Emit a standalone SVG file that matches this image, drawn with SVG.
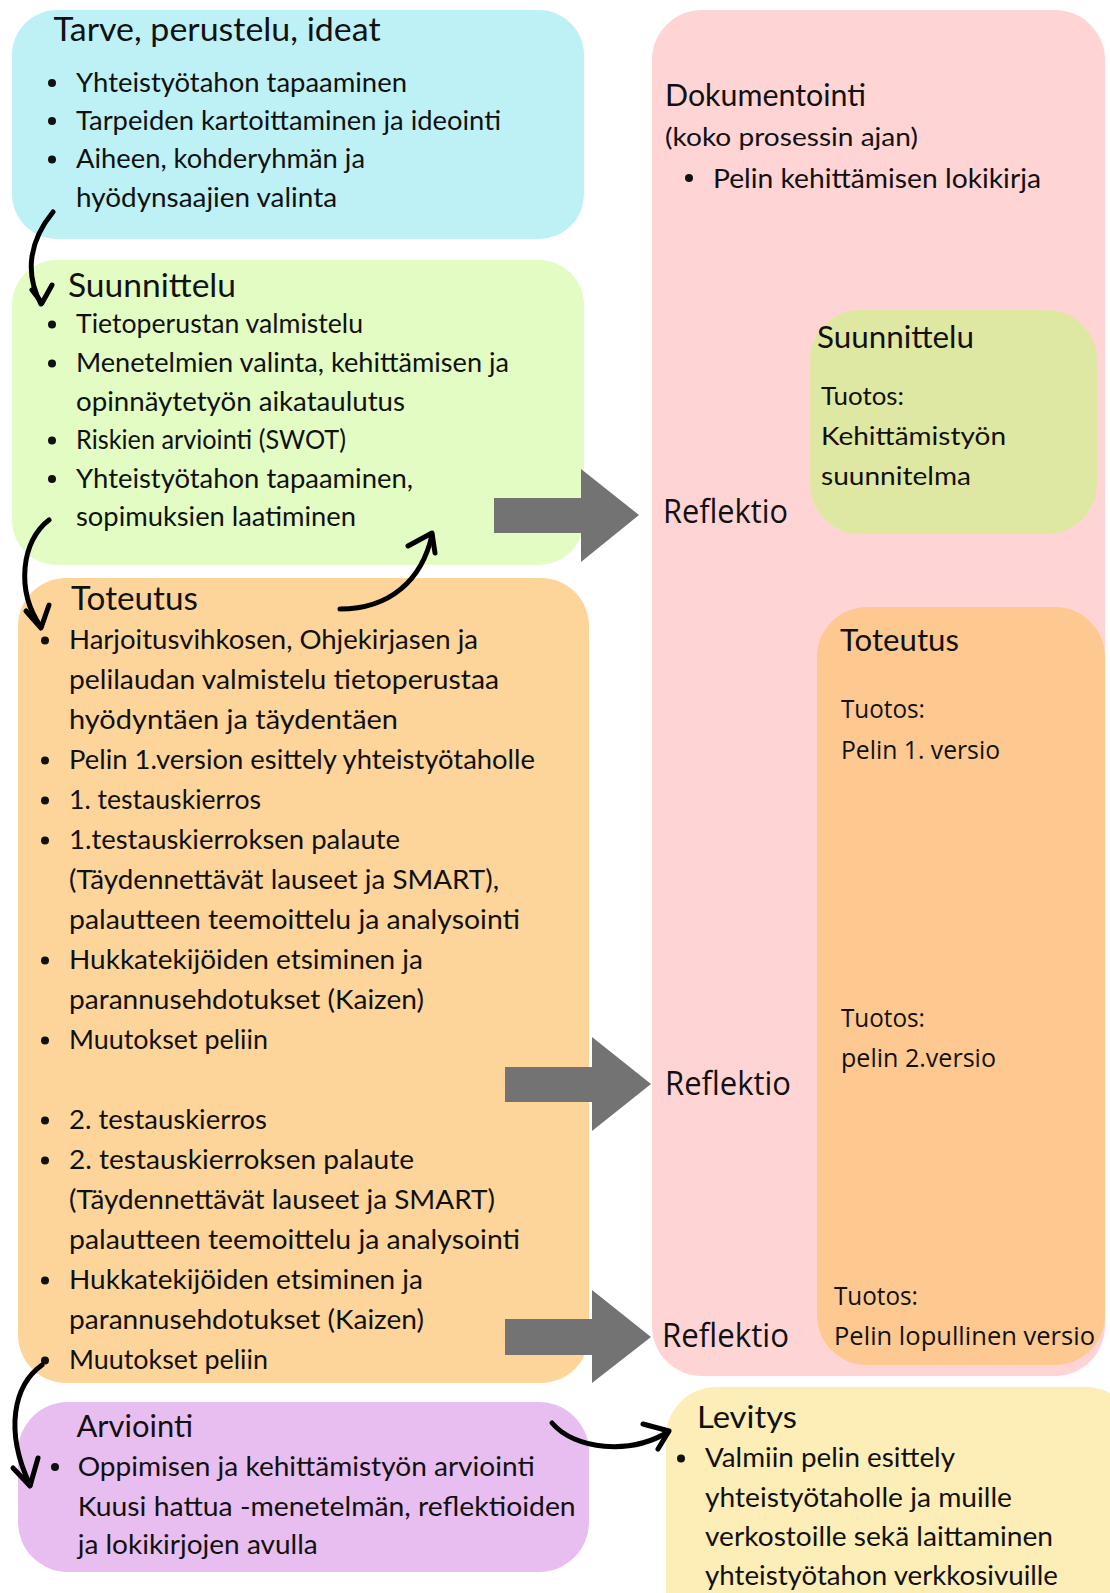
<svg xmlns="http://www.w3.org/2000/svg" width="1110" height="1593" viewBox="0 0 1110 1593">
<style>
text{font-family:Lato,"Liberation Sans",sans-serif;fill:#111}
.t{font-size:32px}
.s{font-size:30px}
.b{font-size:26.5px}
.p{font-size:25px}
.r{font-size:32px;font-family:"Open Sans","Liberation Sans",sans-serif}
.q{font-size:25px;font-family:"Open Sans","Liberation Sans",sans-serif}
.dot{fill:#111}
.garrow{fill:#737373}
.carrow{fill:none;stroke:#000;stroke-width:5;stroke-linecap:round;stroke-linejoin:round}
</style>
<rect width="1110" height="1593" fill="#fff"/>

<g id="dokumentointi">
<rect x="652" y="10" width="453" height="1366" rx="50" fill="#ffd4d5"/>
<text class="s" x="665" y="106" textLength="201" lengthAdjust="spacingAndGlyphs">Dokumentointi</text>
<text class="p" x="665" y="146" textLength="253" lengthAdjust="spacingAndGlyphs">(koko prosessin ajan)</text>
<circle class="dot" cx="689" cy="178" r="4"/>
<text class="b" x="713" y="187.5" textLength="328" lengthAdjust="spacingAndGlyphs">Pelin kehittämisen lokikirja</text>
<text class="r" x="663" y="523" textLength="125" lengthAdjust="spacingAndGlyphs">Reflektio</text>
<text class="r" x="665" y="1095" textLength="126" lengthAdjust="spacingAndGlyphs">Reflektio</text>
<text class="r" x="662" y="1347" textLength="127" lengthAdjust="spacingAndGlyphs">Reflektio</text>
</g>

<g id="tuotos-suunnittelu">
<rect x="810" y="310" width="287" height="224" rx="50" fill="#dfe8a2"/>
<text class="s" x="817" y="347.5" textLength="157" lengthAdjust="spacingAndGlyphs">Suunnittelu</text>
<text class="p" x="821" y="405" textLength="83" lengthAdjust="spacingAndGlyphs">Tuotos:</text>
<text class="p" x="821" y="445" textLength="185" lengthAdjust="spacingAndGlyphs">Kehittämistyön</text>
<text class="p" x="821" y="485" textLength="150" lengthAdjust="spacingAndGlyphs">suunnitelma</text>
</g>

<g id="tuotos-toteutus">
<rect x="817" y="607" width="288" height="758" rx="50" fill="#fec891"/>
<text class="s" x="840" y="651" textLength="119" lengthAdjust="spacingAndGlyphs">Toteutus</text>
<text class="q" x="841" y="718" textLength="84" lengthAdjust="spacingAndGlyphs">Tuotos:</text>
<text class="q" x="841" y="759" textLength="159" lengthAdjust="spacingAndGlyphs">Pelin 1. versio</text>
<text class="q" x="841" y="1027" textLength="84" lengthAdjust="spacingAndGlyphs">Tuotos:</text>
<text class="q" x="841" y="1067" textLength="155" lengthAdjust="spacingAndGlyphs">pelin 2.versio</text>
<text class="q" x="834" y="1305" textLength="84" lengthAdjust="spacingAndGlyphs">Tuotos:</text>
<text class="q" x="834" y="1345" textLength="261" lengthAdjust="spacingAndGlyphs">Pelin lopullinen versio</text>
</g>

<g id="tarve">
<rect x="12" y="10" width="572" height="229" rx="45" fill="#bdf1f5"/>
<text class="t" x="53.6" y="41" textLength="327" lengthAdjust="spacingAndGlyphs">Tarve, perustelu, ideat</text>
<circle class="dot" cx="52" cy="83" r="4"/>
<text class="b" x="76" y="91.7" textLength="331" lengthAdjust="spacingAndGlyphs">Yhteistyötahon tapaaminen</text>
<circle class="dot" cx="52" cy="121" r="4"/>
<text class="b" x="76" y="130" textLength="425" lengthAdjust="spacingAndGlyphs">Tarpeiden kartoittaminen ja ideointi</text>
<circle class="dot" cx="52" cy="159.5" r="4"/>
<text class="b" x="76" y="168.3" textLength="289" lengthAdjust="spacingAndGlyphs">Aiheen, kohderyhmän ja</text>
<text class="b" x="76" y="206.7" textLength="261" lengthAdjust="spacingAndGlyphs">hyödynsaajien valinta</text>
</g>

<g id="suunnittelu">
<rect x="12" y="260" width="572" height="305" rx="45" fill="#e2fcc3"/>
<text class="t" x="68" y="296.7" textLength="168" lengthAdjust="spacingAndGlyphs">Suunnittelu</text>
<circle class="dot" cx="52" cy="324.5" r="4"/>
<text class="b" x="76" y="333.3" textLength="287" lengthAdjust="spacingAndGlyphs">Tietoperustan valmistelu</text>
<circle class="dot" cx="52" cy="363.5" r="4"/>
<text class="b" x="76" y="372.3" textLength="433" lengthAdjust="spacingAndGlyphs">Menetelmien valinta, kehittämisen ja</text>
<text class="b" x="76" y="410.7" textLength="329" lengthAdjust="spacingAndGlyphs">opinnäytetyön aikataulutus</text>
<circle class="dot" cx="52" cy="440.5" r="4"/>
<text class="b" x="76" y="449.3" textLength="270" lengthAdjust="spacingAndGlyphs">Riskien arviointi (SWOT)</text>
<circle class="dot" cx="52" cy="479" r="4"/>
<text class="b" x="76" y="487.7" textLength="337" lengthAdjust="spacingAndGlyphs">Yhteistyötahon tapaaminen,</text>
<text class="b" x="76" y="526" textLength="280" lengthAdjust="spacingAndGlyphs">sopimuksien laatiminen</text>
</g>

<g id="toteutus">
<rect x="18" y="578" width="571" height="805" rx="48" fill="#fdd59a"/>
<text class="t" x="71" y="610" textLength="127" lengthAdjust="spacingAndGlyphs">Toteutus</text>
<circle class="dot" cx="45" cy="640.5" r="4"/>
<text class="b" x="69" y="649.3" textLength="409" lengthAdjust="spacingAndGlyphs">Harjoitusvihkosen, Ohjekirjasen ja</text>
<text class="b" x="69" y="689.3" textLength="430" lengthAdjust="spacingAndGlyphs">pelilaudan valmistelu tietoperustaa</text>
<text class="b" x="69" y="729.3" textLength="329" lengthAdjust="spacingAndGlyphs">hyödyntäen ja täydentäen</text>
<circle class="dot" cx="45" cy="760.5" r="4"/>
<text class="b" x="69" y="769.3" textLength="466" lengthAdjust="spacingAndGlyphs">Pelin 1.version esittely yhteistyötaholle</text>
<circle class="dot" cx="45" cy="800.5" r="4"/>
<text class="b" x="69" y="809.3" textLength="192" lengthAdjust="spacingAndGlyphs">1. testauskierros</text>
<circle class="dot" cx="45" cy="840.5" r="4"/>
<text class="b" x="69" y="849.3" textLength="331" lengthAdjust="spacingAndGlyphs">1.testauskierroksen palaute</text>
<text class="b" x="69" y="889.3" textLength="430" lengthAdjust="spacingAndGlyphs">(Täydennettävät lauseet ja SMART),</text>
<text class="b" x="69" y="929.3" textLength="451" lengthAdjust="spacingAndGlyphs">palautteen teemoittelu ja analysointi</text>
<circle class="dot" cx="45" cy="960.5" r="4"/>
<text class="b" x="69" y="969.3" textLength="354" lengthAdjust="spacingAndGlyphs">Hukkatekijöiden etsiminen ja</text>
<text class="b" x="69" y="1009.3" textLength="355" lengthAdjust="spacingAndGlyphs">parannusehdotukset (Kaizen)</text>
<circle class="dot" cx="45" cy="1040.5" r="4"/>
<text class="b" x="69" y="1049.3" textLength="199" lengthAdjust="spacingAndGlyphs">Muutokset peliin</text>
<circle class="dot" cx="45" cy="1120.5" r="4"/>
<text class="b" x="69" y="1129.3" textLength="198" lengthAdjust="spacingAndGlyphs">2. testauskierros</text>
<circle class="dot" cx="45" cy="1160.5" r="4"/>
<text class="b" x="69" y="1169.3" textLength="345" lengthAdjust="spacingAndGlyphs">2. testauskierroksen palaute</text>
<text class="b" x="69" y="1209.3" textLength="426" lengthAdjust="spacingAndGlyphs">(Täydennettävät lauseet ja SMART)</text>
<text class="b" x="69" y="1249.3" textLength="451" lengthAdjust="spacingAndGlyphs">palautteen teemoittelu ja analysointi</text>
<circle class="dot" cx="45" cy="1280.5" r="4"/>
<text class="b" x="69" y="1289.3" textLength="354" lengthAdjust="spacingAndGlyphs">Hukkatekijöiden etsiminen ja</text>
<text class="b" x="69" y="1329.3" textLength="355" lengthAdjust="spacingAndGlyphs">parannusehdotukset (Kaizen)</text>
<circle class="dot" cx="45" cy="1360.5" r="4"/>
<text class="b" x="69" y="1369.3" textLength="199" lengthAdjust="spacingAndGlyphs">Muutokset peliin</text>
</g>

<g id="arviointi">
<rect x="18" y="1402" width="571" height="170" rx="50" fill="#e8bef0"/>
<text class="s" x="76.5" y="1436.7" textLength="116.5" lengthAdjust="spacingAndGlyphs">Arviointi</text>
<circle class="dot" cx="55" cy="1467" r="4"/>
<text class="b" x="77.7" y="1476" textLength="457" lengthAdjust="spacingAndGlyphs">Oppimisen ja kehittämistyön arviointi</text>
<text class="b" x="77.7" y="1516" textLength="498" lengthAdjust="spacingAndGlyphs">Kuusi hattua -menetelmän, reflektioiden</text>
<text class="b" x="77.7" y="1554" textLength="240" lengthAdjust="spacingAndGlyphs">ja lokikirjojen avulla</text>
</g>

<g id="levitys">
<rect x="666" y="1387" width="470" height="260" rx="50" fill="#fdedb6"/>
<text class="s" x="697" y="1428" textLength="100" lengthAdjust="spacingAndGlyphs">Levitys</text>
<circle class="dot" cx="681" cy="1458.5" r="4"/>
<text class="b" x="705" y="1467.3" textLength="250" lengthAdjust="spacingAndGlyphs">Valmiin pelin esittely</text>
<text class="b" x="705" y="1506.7" textLength="307" lengthAdjust="spacingAndGlyphs">yhteistyötaholle ja muille</text>
<text class="b" x="705" y="1545.7" textLength="348" lengthAdjust="spacingAndGlyphs">verkostoille sekä laittaminen</text>
<text class="b" x="705" y="1585" textLength="353" lengthAdjust="spacingAndGlyphs">yhteistyötahon verkkosivuille</text>
</g>

<g id="connectors">
<polygon class="garrow" points="494,498 581,498 581,469 639,515 581,562 581,533 494,533"/>
<polygon class="garrow" points="505,1067 592,1067 592,1037 651,1084 592,1131 592,1102 505,1102"/>
<polygon class="garrow" points="505,1319 592,1319 592,1290 651,1337 592,1383 592,1355 505,1355"/>
<path class="carrow" d="M53 212 C30 240 24 272 41 304"/>
<path class="carrow" d="M32 290 L42 303 L52 285"/>
<path class="carrow" d="M49 520 C22 540 15 590 41 627"/>
<path class="carrow" d="M26 611 L41 628 L49 605"/>
<path class="carrow" d="M340 609 C390 609 422 580 432 535"/>
<path class="carrow" d="M408 546 L432 533 L435 553"/>
<path class="carrow" d="M42 1365 C14 1385 4 1430 30 1485"/>
<path class="carrow" d="M13 1468 L30 1486 L38 1458"/>
<path class="carrow" d="M552 1423 C575 1450 630 1455 668 1432"/>
<path class="carrow" d="M643 1424 L669 1431 L658 1449"/>
</g>
</svg>
